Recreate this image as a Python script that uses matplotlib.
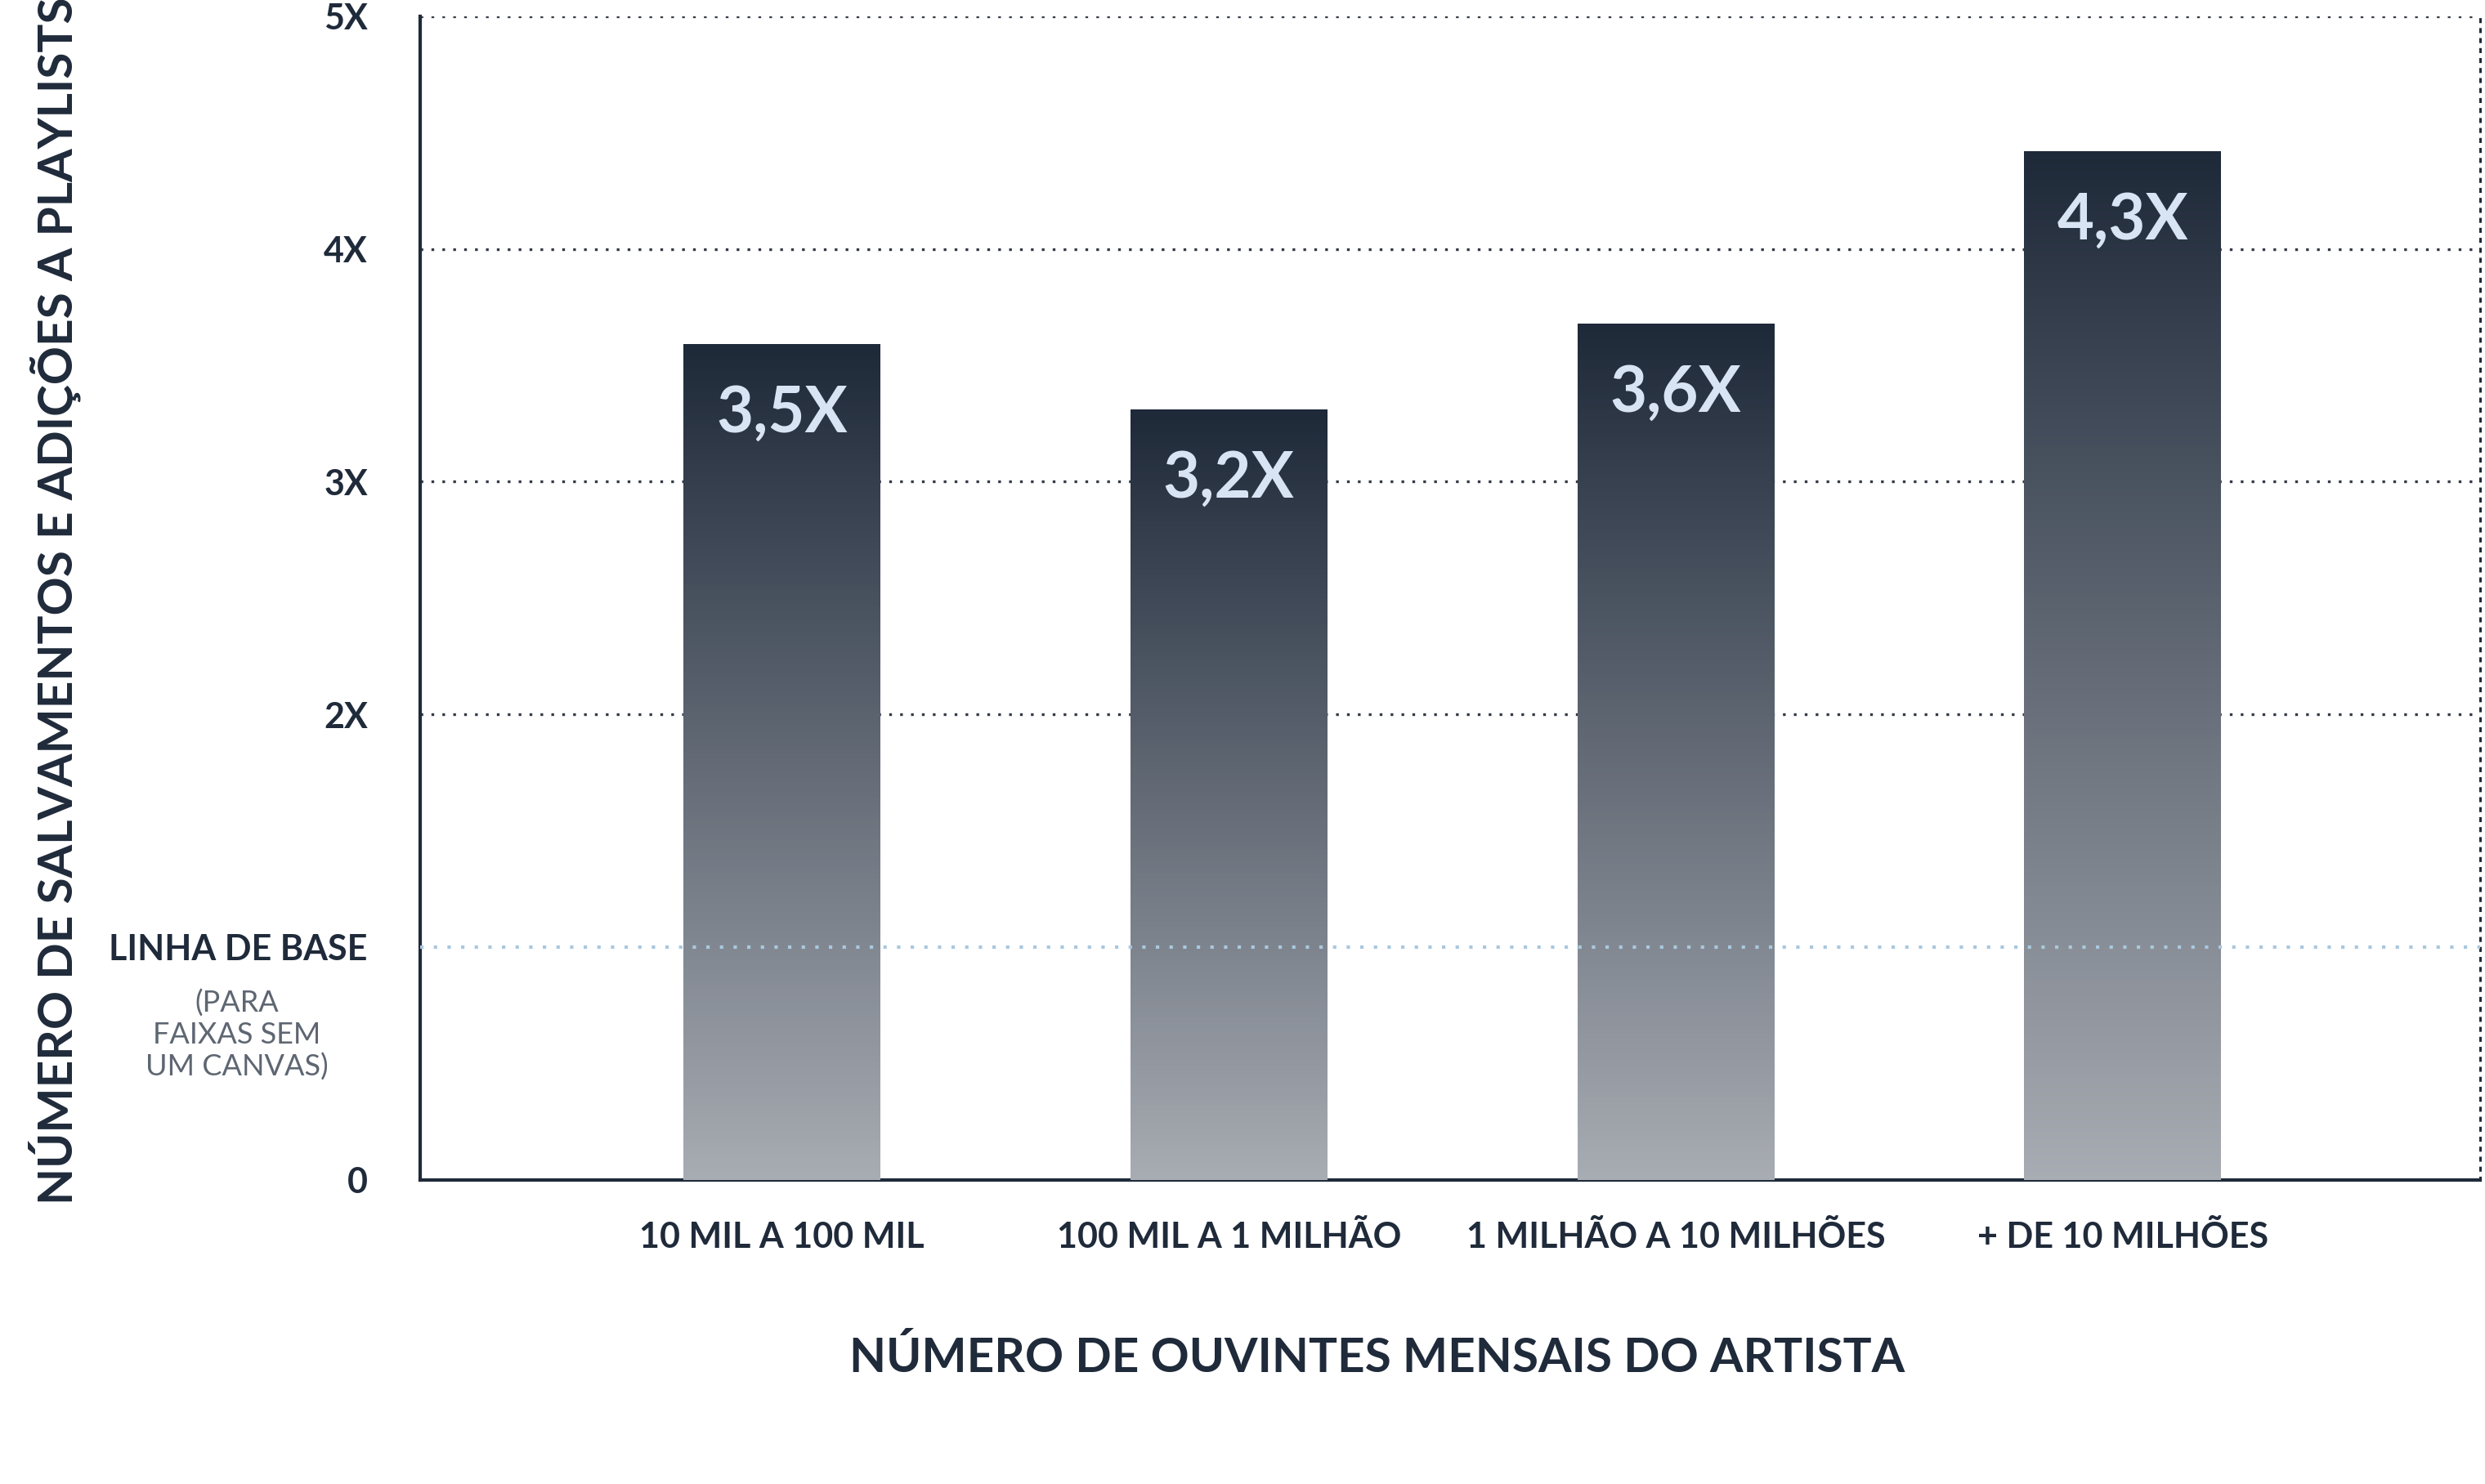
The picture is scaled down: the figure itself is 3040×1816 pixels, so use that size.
import matplotlib
matplotlib.use("Agg")
import matplotlib.pyplot as plt
import numpy as np
from matplotlib.colors import LinearSegmentedColormap

categories = ["10 MIL A 100 MIL", "100 MIL A 1 MILHÃO", "1 MILHÃO A 10 MILHÕES", "+ DE 10 MILHÕES"]
bar_heights = [3.59, 3.31, 3.68, 4.42]
bar_labels = ["3,5X", "3,2X", "3,6X", "4,3X"]
ytick_vals = [0, 1, 2, 3, 4, 5]
ytick_labels = ["0", "LINHA DE BASE", "2X", "3X", "4X", "5X"]

plt.rcParams['font.family'] = ['Lato', 'DejaVu Sans']
dark = "#1f2a3a"
fig = plt.figure(figsize=(30.4, 18.16), dpi=100)
ax = fig.add_axes([0.169, 0.205, 0.829, 0.784])
ax.set_xlim(-0.81, 3.80)
ax.set_ylim(0, 5)

cmap = LinearSegmentedColormap.from_list("g", ["#a8acb3", "#1e2939"])
grad = np.linspace(0, 1, 256).reshape(-1, 1)
w = 0.44
for i, (h, lab) in enumerate(zip(bar_heights, bar_labels)):
    ax.imshow(grad, cmap=cmap, origin="lower", aspect="auto",
              extent=[i - w/2, i + w/2, 0, h], zorder=3)
    ax.text(i, h - 0.3, lab, ha="center", va="center", fontsize=56,
            fontweight="bold", color="#d8e4f4", zorder=4)

for y in [2, 3, 4, 5]:
    ax.axhline(y, color="#333b47", ls=(0, (1, 3)), lw=2.4, zorder=1)
ax.axhline(1, color="#a9c8de", ls=(0, (1, 3)), lw=3, zorder=4)

ax.set_xticks(range(4))
ax.set_xticklabels(categories, fontsize=31, fontweight="bold", color=dark)
ax.set_yticks(ytick_vals)
ax.set_yticklabels(ytick_labels, fontsize=31, fontweight="bold", color=dark)
ax.tick_params(axis="x", length=0, pad=36)
ax.tick_params(axis="y", length=0, pad=46)
ax.text(-0.81 - 0.41, 0.82, "(PARA\nFAIXAS SEM\nUM CANVAS)", ha="center", va="top",
        fontsize=26, color="#5e6672", linespacing=1.2)

ax.spines["top"].set_visible(False)
ax.spines["left"].set_color(dark); ax.spines["left"].set_linewidth(3)
ax.spines["bottom"].set_color(dark); ax.spines["bottom"].set_linewidth(3)
ax.spines["right"].set_color(dark); ax.spines["right"].set_linewidth(2.2)
ax.spines["right"].set_linestyle((0, (1, 3)))

fig.text(0.554, 0.085, "NÚMERO DE OUVINTES MENSAIS DO ARTISTA", ha="center", va="center",
         fontsize=42, fontweight="bold", color=dark)
fig.text(0.022, 0.595, "NÚMERO DE SALVAMENTOS E ADIÇÕES A PLAYLISTS", rotation=90,
         ha="center", va="center", fontsize=42, fontweight="bold", color=dark)
fig.savefig("out.png", dpi=100)
